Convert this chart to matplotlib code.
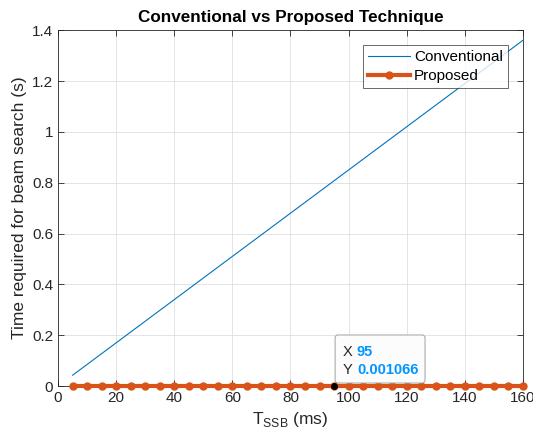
import matplotlib
matplotlib.use("Agg")
import matplotlib.pyplot as plt
from matplotlib.patches import FancyBboxPatch

plt.rcParams['font.family'] = ['Liberation Sans', 'DejaVu Sans']

# T_SSB values (ms)
t_ssb = [5, 10, 15, 20, 25, 30, 35, 40, 45, 50, 55, 60, 65, 70, 75, 80,
         85, 90, 95, 100, 105, 110, 115, 120, 125, 130, 135, 140, 145, 150, 155, 160]

# beam search time (s)
conventional = [0.0425, 0.085, 0.1275, 0.17, 0.2125, 0.255, 0.2975, 0.34,
                0.3825, 0.425, 0.4675, 0.51, 0.5525, 0.595, 0.6375, 0.68,
                0.7225, 0.765, 0.8075, 0.85, 0.8925, 0.935, 0.9775, 1.02,
                1.0625, 1.105, 1.1475, 1.19, 1.2325, 1.275, 1.3175, 1.36]
proposed = [0.001066] * len(t_ssb)

tip_x = 95
tip_y = 0.001066

fig = plt.figure(figsize=(5.33, 4.44), dpi=100)
ax = fig.add_axes([0.109, 0.1306, 0.872, 0.8014])

ax.plot(t_ssb, conventional, color='#0072BD', lw=0.8, label='Conventional')
ax.plot(t_ssb, proposed, color='#D95319', lw=3, marker='o', ms=5,
        label='Proposed', clip_on=False, zorder=3)

ax.set_xlim(0, 160)
ax.set_ylim(0, 1.4)
ax.set_xticks(range(0, 161, 20))
ax.set_yticks([0, 0.2, 0.4, 0.6, 0.8, 1, 1.2, 1.4])
ax.set_yticklabels(['0', '0.2', '0.4', '0.6', '0.8', '1', '1.2', '1.4'])
ax.grid(True, color='#dfdfdf', lw=0.6)
ax.set_axisbelow(True)
for s in ax.spines.values():
    s.set_color('#262626')
    s.set_linewidth(0.6)
ax.tick_params(direction='in', top=True, right=True, colors='#262626',
               labelsize=11, length=4, width=0.6)

ax.set_title('Conventional vs Proposed Technique', fontsize=12.3,
             fontweight='bold', pad=6)
ax.set_xlabel('T$_{\\mathregular{SSB}}$ (ms)', fontsize=12.5, color='#262626')
ax.set_ylabel('Time required for beam search (s)', fontsize=12.5, color='#262626')

leg = ax.legend(loc='upper right', fontsize=11, frameon=True, fancybox=False,
                edgecolor='#262626', handlelength=2.8, borderaxespad=1.0,
                borderpad=0.3, labelspacing=0.35, handletextpad=0.25)
leg.get_frame().set_linewidth(0.6)

# data tip
ax.plot([tip_x], [tip_y], 'o', color='black', ms=4, zorder=5, clip_on=False)
box = FancyBboxPatch((0.596, 0.0084), 0.1935, 0.135, transform=ax.transAxes,
                     boxstyle='round,pad=0,rounding_size=0.006',
                     mutation_aspect=465 / 356,
                     fc='#fcfcfd', ec='#a0a0a0', lw=0.7, zorder=4)
ax.add_patch(box)
ax.text(0.613, 0.096, 'X', transform=ax.transAxes, fontsize=10.5,
        color='#262626', zorder=6, va='center')
ax.text(0.643, 0.096, str(tip_x), transform=ax.transAxes, fontsize=10.5,
        color='#0095ff', fontweight='bold', zorder=6, va='center')
ax.text(0.613, 0.045, 'Y', transform=ax.transAxes, fontsize=10.5,
        color='#262626', zorder=6, va='center')
ax.text(0.643, 0.045, '%.6f' % tip_y, transform=ax.transAxes, fontsize=10.5,
        color='#0095ff', fontweight='bold', zorder=6, va='center')

fig.savefig('out.png', dpi=100)
